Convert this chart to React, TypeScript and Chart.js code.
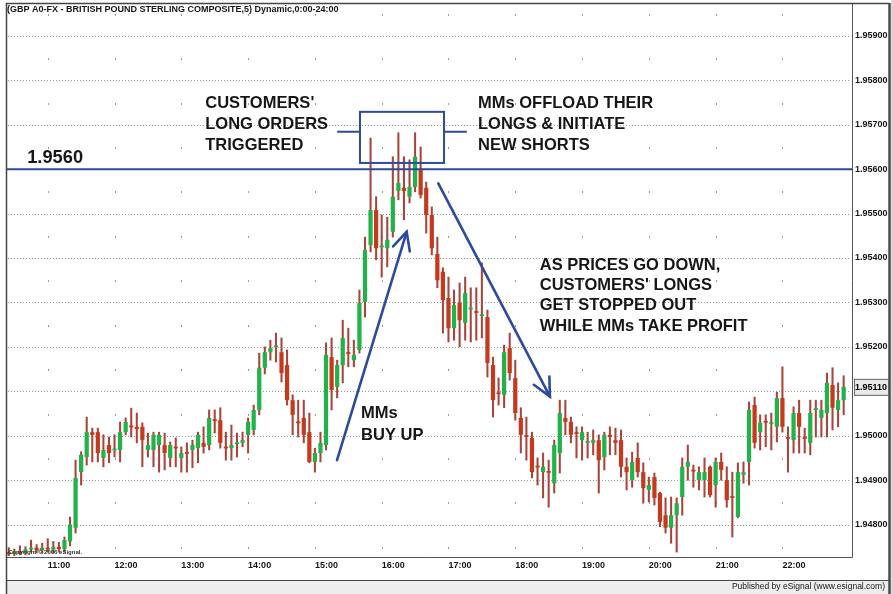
import { useEffect, useRef } from "react";
import { Chart, registerables } from "chart.js";

Chart.register(...registerables);

const FONT = "'Liberation Sans', Arial, Helvetica, sans-serif";

// ---- time axis (5-minute bars, first bar 10:25, one empty slot at the right) ----
const firstBarTime = "10:25";
const barMinutes = 5;
const slotCount = 152;
const hourTickLabels = ["11:00", "12:00", "13:00", "14:00", "15:00", "16:00", "17:00", "18:00", "19:00", "20:00", "21:00", "22:00"];

// ---- price axis ----
const priceTicks = [1.948, 1.949, 1.95, 1.951, 1.952, 1.953, 1.954, 1.955, 1.956, 1.957, 1.958, 1.959];
const yMin = 1.94727;
const yMax = 1.95974;
const keyLevel = 1.956;
const keyLevelLabel = "1.9560";

// ---- OHLC series (one row per hour of bars) ----
const opens = [
  1.94738, 1.94734, 1.94740, 1.94736, 1.94744, 1.94748, 1.94742,
  1.94748, 1.94744, 1.94750, 1.94745, 1.94762, 1.94793, 1.94918, 1.94952, 1.95008, 1.95008, 1.94950, 1.94979,
  1.94968, 1.94968, 1.95008, 1.95022, 1.95020, 1.95020, 1.94968, 1.94968, 1.94979, 1.94979, 1.94950, 1.94975,
  1.94950, 1.94963, 1.94968, 1.94972, 1.94984, 1.94979, 1.95037, 1.95035, 1.94975, 1.94972, 1.94982, 1.94984,
  1.95002, 1.95013, 1.95058, 1.95153, 1.95188, 1.95200, 1.95188, 1.95159, 1.95080, 1.95031, 1.95040, 1.95008,
  1.94941, 1.94961, 1.94979, 1.95177, 1.95110, 1.95159, 1.95188, 1.95170, 1.95193, 1.95301, 1.95429, 1.95508,
  1.95425, 1.95422, 1.95459, 1.95551, 1.95558, 1.95538, 1.95560, 1.95598, 1.95558, 1.95497, 1.95409, 1.95369,
  1.95310, 1.95242, 1.95299, 1.95254, 1.95285, 1.95280, 1.95270, 1.95267, 1.95159, 1.95097, 1.95092, 1.95197,
  1.95130, 1.95040, 1.95001, 1.94995, 1.94932, 1.94918, 1.94920, 1.94893, 1.94961, 1.95040, 1.95031, 1.95008,
  1.94990, 1.94984, 1.94984, 1.94990, 1.94952, 1.95002, 1.94990, 1.94990, 1.94930, 1.94900, 1.94950, 1.94918,
  1.94878, 1.94907, 1.94871, 1.94821, 1.94793, 1.94821, 1.94862, 1.94930, 1.94923, 1.94900, 1.94900, 1.94930,
  1.94889, 1.94941, 1.94900, 1.94864, 1.94817, 1.94912, 1.94941, 1.95069, 1.95008, 1.95033, 1.95027, 1.95020,
  1.95085, 1.94997, 1.94990, 1.95051, 1.94997, 1.94984, 1.95058, 1.95040, 1.95051, 1.95114, 1.95058, 1.95080,
];
const highs = [
  1.94748, 1.94745, 1.94752, 1.94750, 1.94765, 1.94755, 1.94758,
  1.94768, 1.94762, 1.94760, 1.94772, 1.94817, 1.94945, 1.94964, 1.95042, 1.95017, 1.95017, 1.95002, 1.94997,
  1.95002, 1.95031, 1.95040, 1.95062, 1.95051, 1.95029, 1.95006, 1.95008, 1.95008, 1.95006, 1.94986, 1.94995,
  1.94975, 1.94984, 1.94990, 1.95008, 1.95020, 1.95058, 1.95058, 1.95063, 1.95008, 1.95024, 1.95006, 1.95008,
  1.95040, 1.95069, 1.95186, 1.95200, 1.95215, 1.95231, 1.95220, 1.95193, 1.95092, 1.95080, 1.95080, 1.95051,
  1.94972, 1.95008, 1.95209, 1.95220, 1.95170, 1.95260, 1.95242, 1.95215, 1.95328, 1.95447, 1.95670, 1.95538,
  1.95497, 1.95492, 1.95628, 1.95682, 1.95628, 1.95621, 1.95682, 1.95650, 1.95571, 1.95515, 1.95447, 1.95378,
  1.95357, 1.95328, 1.95344, 1.95357, 1.95333, 1.95333, 1.95389, 1.95283, 1.95177, 1.95130, 1.95204, 1.95231,
  1.95170, 1.95063, 1.95042, 1.95008, 1.94950, 1.94961, 1.94945, 1.94990, 1.95080, 1.95080, 1.95042, 1.95020,
  1.95020, 1.95008, 1.95013, 1.95002, 1.95008, 1.95020, 1.95017, 1.95013, 1.94950, 1.94963, 1.94984, 1.94939,
  1.94907, 1.94916, 1.94873, 1.94860, 1.94862, 1.94860, 1.94950, 1.94979, 1.94934, 1.94930, 1.94950, 1.94932,
  1.94950, 1.94961, 1.94930, 1.94918, 1.94939, 1.94941, 1.95076, 1.95087, 1.95047, 1.95047, 1.95051, 1.95098,
  1.95155, 1.95020, 1.95065, 1.95080, 1.95017, 1.95080, 1.95080, 1.95080, 1.95141, 1.95153, 1.95119, 1.95135,
];
const lows = [
  1.94730, 1.94730, 1.94732, 1.94732, 1.94738, 1.94736, 1.94735,
  1.94738, 1.94736, 1.94738, 1.94738, 1.94752, 1.94781, 1.94889, 1.94934, 1.94941, 1.94941, 1.94930, 1.94939,
  1.94952, 1.94941, 1.95002, 1.94997, 1.94984, 1.94930, 1.94952, 1.94930, 1.94918, 1.94923, 1.94930, 1.94930,
  1.94918, 1.94918, 1.94928, 1.94939, 1.94961, 1.94968, 1.95006, 1.94972, 1.94945, 1.94945, 1.94952, 1.94975,
  1.94961, 1.95002, 1.95047, 1.95139, 1.95170, 1.95166, 1.95121, 1.95069, 1.95002, 1.94997, 1.94984, 1.94939,
  1.94918, 1.94941, 1.94968, 1.95058, 1.95085, 1.95119, 1.95155, 1.95155, 1.95186, 1.95267, 1.95414, 1.95396,
  1.95357, 1.95380, 1.95447, 1.95531, 1.95486, 1.95524, 1.95549, 1.95535, 1.95456, 1.95407, 1.95333, 1.95231,
  1.95211, 1.95215, 1.95200, 1.95215, 1.95211, 1.95215, 1.95220, 1.95132, 1.95042, 1.95069, 1.95063, 1.95125,
  1.95035, 1.94961, 1.94945, 1.94905, 1.94889, 1.94860, 1.94839, 1.94871, 1.94916, 1.95002, 1.94984, 1.94950,
  1.94945, 1.94950, 1.94957, 1.94871, 1.94923, 1.94957, 1.94957, 1.94907, 1.94878, 1.94884, 1.94907, 1.94848,
  1.94851, 1.94844, 1.94795, 1.94781, 1.94758, 1.94738, 1.94821, 1.94900, 1.94884, 1.94878, 1.94862, 1.94862,
  1.94839, 1.94900, 1.94839, 1.94772, 1.94815, 1.94893, 1.94889, 1.94972, 1.94968, 1.94975, 1.94968, 1.94986,
  1.95008, 1.94918, 1.94961, 1.94961, 1.94961, 1.94957, 1.94997, 1.94997, 1.94997, 1.95013, 1.95020, 1.95047,
];
const closes = [
  1.94733, 1.94740, 1.94736, 1.94744, 1.94748, 1.94742, 1.94748,
  1.94744, 1.94750, 1.94745, 1.94765, 1.94800, 1.94905, 1.94957, 1.95008, 1.95002, 1.94961, 1.94968, 1.94961,
  1.94970, 1.95008, 1.95031, 1.95020, 1.95015, 1.94990, 1.94979, 1.95002, 1.95002, 1.94961, 1.94979, 1.94972,
  1.94961, 1.94960, 1.94979, 1.95002, 1.94975, 1.95040, 1.95033, 1.94984, 1.94972, 1.94979, 1.94984, 1.94990,
  1.95031, 1.95058, 1.95153, 1.95188, 1.95197, 1.95202, 1.95141, 1.95080, 1.95047, 1.95029, 1.95002, 1.94941,
  1.94961, 1.94984, 1.95182, 1.95103, 1.95159, 1.95220, 1.95184, 1.95182, 1.95299, 1.95418, 1.95508, 1.95422,
  1.95427, 1.95441, 1.95538, 1.95569, 1.95551, 1.95560, 1.95628, 1.95542, 1.95497, 1.95422, 1.95350, 1.95305,
  1.95242, 1.95294, 1.95260, 1.95321, 1.95288, 1.95277, 1.95273, 1.95164, 1.95080, 1.95094, 1.95188, 1.95141,
  1.95051, 1.95002, 1.94998, 1.94918, 1.94929, 1.94930, 1.94917, 1.94979, 1.95051, 1.95031, 1.95002, 1.95004,
  1.95008, 1.94988, 1.94990, 1.94945, 1.95002, 1.94997, 1.94984, 1.94930, 1.94918, 1.94941, 1.94918, 1.94882,
  1.94889, 1.94860, 1.94806, 1.94793, 1.94821, 1.94848, 1.94930, 1.94941, 1.94920, 1.94918, 1.94918, 1.94866,
  1.94941, 1.94923, 1.94855, 1.94860, 1.94918, 1.94918, 1.95058, 1.94984, 1.95029, 1.95030, 1.95030, 1.95085,
  1.95020, 1.94993, 1.95051, 1.95020, 1.94993, 1.95051, 1.95062, 1.95058, 1.95119, 1.95063, 1.95080, 1.95110,
];

// ---- annotations, anchored in (bar slot, price) ----
const noteBlocks = [
  { slot: 35.3, price: 1.95749, spacing: 21, lines: ["CUSTOMERS'", "LONG ORDERS", "TRIGGERED"] },
  { slot: 84.3, price: 1.95749, spacing: 21, lines: ["MMs OFFLOAD THEIR", "LONGS & INITIATE", "NEW SHORTS"] },
  { slot: 95.4, price: 1.95384, spacing: 20.3, lines: ["AS PRICES GO DOWN,", "CUSTOMERS' LONGS", "GET STOPPED OUT", "WHILE MMs TAKE PROFIT"] },
  { slot: 63.3, price: 1.95051, spacing: 22, lines: ["MMs", "BUY UP"] },
];
const arrows = [
  { from: [58.97, 1.94945], to: [71.49, 1.95459] },
  { from: [77.17, 1.95568], to: [97.23, 1.95088] },
];
const focusBox = { slotFrom: 63.1, slotTo: 78.2, priceLow: 1.95614, priceHigh: 1.95729, linkPrice: 1.95684, linkLeft: 59.0, linkRight: 82.3 };
const levelLabelAnchor = { slot: 3.3, price: 1.95625 };

const titleText = "(GBP A0-FX - BRITISH POUND STERLING COMPOSITE,5) Dynamic,0:00-24:00";
const copyrightText = "Copyright \u00A9 2006 eSignal.";
const publisherText = "Published by eSignal (www.esignal.com)";

// ---- styles ----
const GREEN = "#22b24a";
const RED = "#c53a1c";
const WICK = "#a8443c";
const BLUE = "#2c4a9e";
const INK = "#161616";
const GRID_DOT = "#9a9a9a";
const MIN_BODY = 0.00004;

const [h0, m0] = firstBarTime.split(":").map(Number);
const slotLabels = Array.from({ length: slotCount }, (_, i) => {
  const t = h0 * 60 + m0 + i * barMinutes;
  return `${Math.floor(t / 60)}:${String(t % 60).padStart(2, "0")}`;
});

const lastClose = closes[closes.length - 1];

export default function App() {
  const canvasRef = useRef<HTMLCanvasElement | null>(null);

  useEffect(() => {
    const canvas = canvasRef.current;
    if (!canvas) return;

    const wickData = lows.map((l, i) => [l, highs[i]]);
    const bodyData = opens.map((o, i) => {
      const c = closes[i];
      let lo = Math.min(o, c);
      let hi = Math.max(o, c);
      if (hi - lo < MIN_BODY) {
        const m = (hi + lo) / 2;
        lo = m - MIN_BODY / 2;
        hi = m + MIN_BODY / 2;
      }
      return [lo, hi];
    });
    const bodyColors = opens.map((o, i) => (closes[i] >= o ? GREEN : RED));

    const backgroundPlugin = {
      id: "bg",
      beforeDraw(chart: any) {
        const { ctx, width, height } = chart;
        ctx.save();
        ctx.fillStyle = "#ffffff";
        ctx.fillRect(0, 0, width, height);
        ctx.fillStyle = "#ededed";
        ctx.fillRect(6, 580, width - 6, height - 580);
        ctx.fillStyle = "#d8d8d8";
        ctx.fillRect(891, 0, 2, height);
        ctx.restore();
      },
    };

    const gridPlugin = {
      id: "dotGrid",
      beforeDatasetsDraw(chart: any) {
        const { ctx, chartArea: a, scales } = chart;
        const x = scales.x;
        const y = scales.y;
        ctx.save();
        ctx.fillStyle = GRID_DOT;
        for (const v of priceTicks) {
          const py = Math.round(y.getPixelForValue(v));
          for (let px = a.left + 2; px < a.right - 1; px += 3) ctx.fillRect(px, py, 1, 1);
        }
        const halfLevels = [priceTicks[0] - 0.0005, ...priceTicks.map((v) => v + 0.0005)];
        slotLabels.forEach((lab, i) => {
          if (!hourTickLabels.includes(lab)) return;
          const px = Math.round(x.getPixelForValue(i));
          for (const v of halfLevels) {
            const py = Math.round(y.getPixelForValue(v));
            if (py > a.top + 2 && py < a.bottom - 2) ctx.fillRect(px, py, 1, 2);
          }
        });
        ctx.restore();
      },
    };

    const drawArrow = (ctx: CanvasRenderingContext2D, x1: number, y1: number, x2: number, y2: number) => {
      ctx.beginPath();
      ctx.moveTo(x1, y1);
      ctx.lineTo(x2, y2);
      ctx.stroke();
      const ang = Math.atan2(y1 - y2, x1 - x2);
      const len = 20;
      const spread = (26 * Math.PI) / 180;
      ctx.beginPath();
      ctx.moveTo(x2 + len * Math.cos(ang - spread), y2 + len * Math.sin(ang - spread));
      ctx.lineTo(x2, y2);
      ctx.lineTo(x2 + len * Math.cos(ang + spread), y2 + len * Math.sin(ang + spread));
      ctx.stroke();
    };

    const annotationPlugin = {
      id: "notes",
      afterDatasetsDraw(chart: any) {
        const { ctx, chartArea: a, scales } = chart;
        const sx = (s: number) => scales.x.getPixelForValue(s);
        const sy = (p: number) => scales.y.getPixelForValue(p);
        ctx.save();
        ctx.strokeStyle = BLUE;
        ctx.lineWidth = 2;
        const ly = sy(keyLevel);
        ctx.beginPath();
        ctx.moveTo(a.left, ly);
        ctx.lineTo(a.right, ly);
        ctx.stroke();
        ctx.lineWidth = 2;
        ctx.strokeRect(sx(focusBox.slotFrom), sy(focusBox.priceHigh), sx(focusBox.slotTo) - sx(focusBox.slotFrom), sy(focusBox.priceLow) - sy(focusBox.priceHigh));
        const lk = sy(focusBox.linkPrice);
        ctx.beginPath();
        ctx.moveTo(sx(focusBox.linkLeft), lk);
        ctx.lineTo(sx(focusBox.slotFrom), lk);
        ctx.moveTo(sx(focusBox.slotTo), lk);
        ctx.lineTo(sx(focusBox.linkRight), lk);
        ctx.stroke();
        ctx.lineWidth = 2.6;
        ctx.lineCap = "round";
        for (const ar of arrows) {
          drawArrow(ctx, sx(ar.from[0]), sy(ar.from[1]), sx(ar.to[0]), sy(ar.to[1]));
        }
        ctx.fillStyle = INK;
        ctx.textBaseline = "middle";
        ctx.textAlign = "left";
        ctx.font = `bold 18.3px ${FONT}`;
        ctx.fillText(keyLevelLabel, sx(levelLabelAnchor.slot), sy(levelLabelAnchor.price));
        ctx.font = `bold 16.5px ${FONT}`;
        for (const b of noteBlocks) {
          b.lines.forEach((line, k) => ctx.fillText(line, sx(b.slot), sy(b.price) + k * b.spacing));
        }
        ctx.restore();
      },
      afterDraw(chart: any) {
        const { ctx, chartArea: a, scales, width } = chart;
        ctx.save();
        ctx.strokeStyle = "#555";
        ctx.lineWidth = 1;
        ctx.beginPath();
        ctx.moveTo(a.right + 0.5, a.top);
        ctx.lineTo(a.right + 0.5, a.bottom + 0.5);
        ctx.lineTo(a.left, a.bottom + 0.5);
        ctx.stroke();
        ctx.lineWidth = 1.5;
        ctx.strokeStyle = "#444";
        ctx.beginPath();
        ctx.moveTo(a.left + 0.5, 594);
        ctx.lineTo(a.left + 0.5, a.top + 0.5);
        ctx.lineTo(889.5, a.top + 0.5);
        ctx.stroke();
        ctx.lineWidth = 1;
        ctx.beginPath();
        ctx.moveTo(a.left, 580.5);
        ctx.lineTo(890, 580.5);
        ctx.stroke();
        ctx.lineWidth = 2.5;
        ctx.strokeStyle = "#4a4a4a";
        ctx.beginPath();
        ctx.moveTo(889.5, a.top);
        ctx.lineTo(889.5, 594);
        ctx.stroke();
        ctx.fillStyle = INK;
        ctx.textBaseline = "middle";
        ctx.textAlign = "left";
        ctx.font = `bold 9px ${FONT}`;
        ctx.fillText(titleText, a.left + 1, a.top + 7);
        ctx.font = `bold 6px ${FONT}`;
        ctx.fillStyle = "#333";
        ctx.fillText(copyrightText, a.left + 2, a.bottom - 5);
        ctx.font = `8.5px ${FONT}`;
        ctx.fillStyle = INK;
        ctx.textAlign = "right";
        ctx.fillText(publisherText, width - 8, 587);
        const py = scales.y.getPixelForValue(lastClose);
        ctx.fillStyle = "#e9e9e9";
        ctx.fillRect(a.right + 2, py - 8, 35, 17);
        ctx.strokeStyle = "#666";
        ctx.lineWidth = 1;
        ctx.strokeRect(a.right + 2.5, py - 7.5, 34, 16);
        ctx.fillStyle = "#000";
        ctx.textAlign = "left";
        ctx.font = `bold 9px ${FONT}`;
        ctx.fillText(lastClose.toFixed(5), a.right + 3, py + 0.5);
        ctx.restore();
      },
    };

    const chart = new Chart(canvas, {
      type: "bar",
      data: {
        labels: slotLabels,
        datasets: [
          {
            label: "wick",
            data: wickData as any,
            backgroundColor: WICK,
            barThickness: 1.4,
            grouped: false,
            order: 1,
          } as any,
          {
            label: "body",
            data: bodyData as any,
            backgroundColor: bodyColors,
            barPercentage: 0.76,
            categoryPercentage: 1,
            grouped: false,
            order: 0,
          } as any,
        ],
      },
      options: {
        animation: false,
        responsive: false,
        devicePixelRatio: 1,
        events: [],
        layout: { padding: { left: 6, top: 3, right: 0, bottom: 14 } },
        plugins: { legend: { display: false }, tooltip: { enabled: false } },
        scales: {
          x: {
            type: "category",
            offset: true,
            grid: { display: false, drawTicks: false },
            border: { display: false },
            ticks: {
              autoSkip: false,
              maxRotation: 0,
              minRotation: 0,
              align: "start",
              padding: 3,
              color: INK,
              font: { family: FONT, size: 9, weight: "bold" },
              callback: (_v: any, idx: number) => (hourTickLabels.includes(slotLabels[idx]) ? slotLabels[idx] : ""),
            },
            afterFit: (s: any) => {
              s.height = 23;
              s.paddingLeft = 0;
              s.paddingRight = 0;
            },
          },
          y: {
            position: "right",
            min: yMin,
            max: yMax,
            grid: { display: false, drawTicks: false },
            border: { display: false },
            afterBuildTicks: (s: any) => {
              s.ticks = priceTicks.map((v) => ({ value: v }));
            },
            ticks: {
              padding: 3,
              color: INK,
              font: { family: FONT, size: 9, weight: "bold" },
              callback: (v: any) => (Math.abs(Number(v) - lastClose) < 0.0002 ? "" : Number(v).toFixed(5)),
            },
            afterFit: (s: any) => {
              s.width = 41;
              s.paddingTop = 0;
              s.paddingBottom = 0;
            },
          },
        },
      } as any,
      plugins: [backgroundPlugin, gridPlugin, annotationPlugin],
    });

    return () => chart.destroy();
  }, []);

  return (
    <div style={{ position: "absolute", left: 0, top: 0, width: 893, height: 594 }}>
      <canvas ref={canvasRef} width={893} height={594} style={{ width: 893, height: 594, display: "block" }} />
    </div>
  );
}
